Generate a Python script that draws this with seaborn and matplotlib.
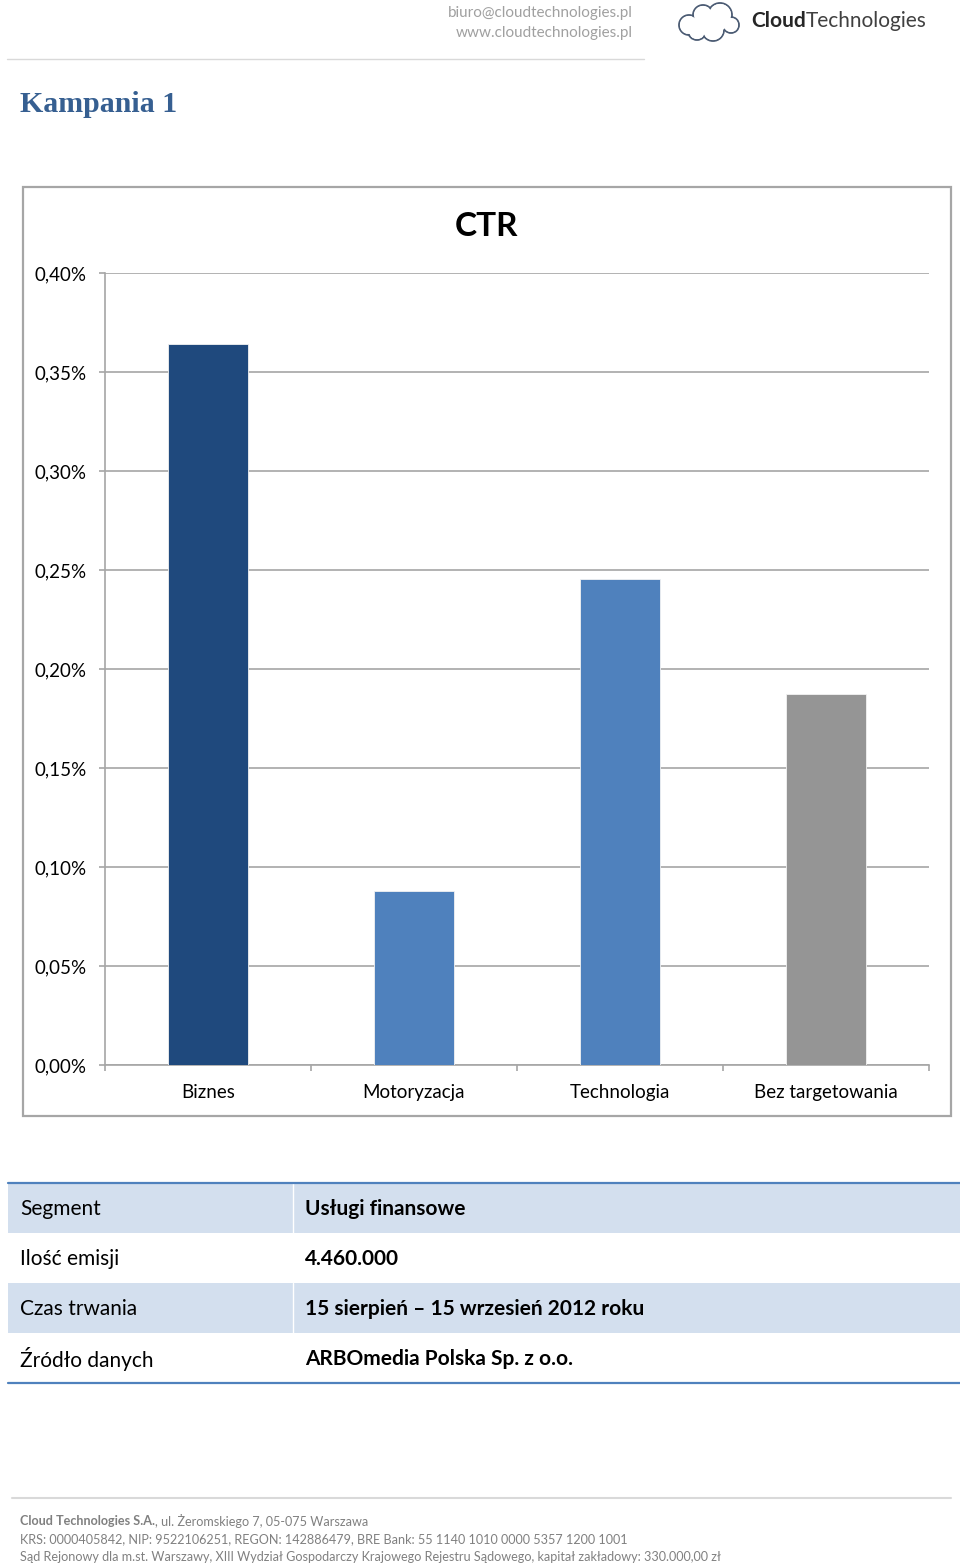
import matplotlib
matplotlib.use("Agg")
import matplotlib.pyplot as plt
from matplotlib.patches import Rectangle, Circle, Ellipse
from matplotlib.ticker import FuncFormatter, FixedLocator
import seaborn as sns
import pandas as pd

# ---- data ----
categories = ["Biznes", "Motoryzacja", "Technologia", "Bez targetowania"]
ctr_values = [0.364, 0.088, 0.2455, 0.1875]   # CTR in %
bar_colors = ["#1F497D", "#4F81BD", "#4F81BD", "#959595"]
y_ticks = [0.00, 0.05, 0.10, 0.15, 0.20, 0.25, 0.30, 0.35, 0.40]

table_labels = ["Segment", "Ilość emisji", "Czas trwania", "Źródło danych"]
table_values = ["Usługi finansowe", "4.460.000", "15 sierpień – 15 wrzesień 2012 roku",
                "ARBOmedia Polska Sp. z o.o."]

header_lines = ["biuro@cloudtechnologies.pl", "www.cloudtechnologies.pl"]
footer_bold = "Cloud Technologies S.A."
footer_lines = [
    ", ul. Żeromskiego 7, 05-075 Warszawa",
    "KRS: 0000405842, NIP: 9522106251, REGON: 142886479, BRE Bank: 55 1140 1010 0000 5357 1200 1001",
    "Sąd Rejonowy dla m.st. Warszawy, XIII Wydział Gospodarczy Krajowego Rejestru Sądowego, kapitał zakładowy: 330.000,00 zł",
]

# ---- style ----
sns.set_style("white")
FONT = ["Lato", "DejaVu Sans"]
plt.rcParams["font.family"] = FONT

W, H = 960, 1565
fig = plt.figure(figsize=(W / 100, H / 100), dpi=100)

# overlay axes in pixel coordinates (y down)
ov = fig.add_axes([0, 0, 1, 1], zorder=0)
ov.set_xlim(0, W)
ov.set_ylim(H, 0)
ov.axis("off")


def after(text_artist, s, **kw):
    """Place text s right after an existing text artist, same centre line."""
    fig.canvas.draw()
    bb = text_artist.get_window_extent()
    x_data = ov.transData.inverted().transform((bb.x1, 0))[0]
    y_data = text_artist.get_position()[1]
    return ov.text(x_data, y_data, s, ha="left", va="center", **kw)


# header
ov.text(633, 13, header_lines[0], ha="right", va="center", fontsize=11, color="#A0A0A0")
ov.text(633, 33, header_lines[1], ha="right", va="center", fontsize=11, color="#A0A0A0")
ov.plot([7, 644], [59, 59], color="#D9D9D9", lw=1)

# cloud logo
bumps = [(689, 25, 10), (703, 15, 10), (720, 15, 12), (731, 25, 8), (713, 30, 11), (697, 31, 9)]
for cx, cy, r in bumps:
    ov.add_patch(Circle((cx, cy), r, facecolor="none", edgecolor="#4B5B73", lw=1.3, zorder=2))
for cx, cy, r in bumps:
    ov.add_patch(Circle((cx, cy), r - 1.0, facecolor="white", edgecolor="none", zorder=3))
ov.add_patch(Ellipse((710, 24), 34, 18, facecolor="white", edgecolor="none", zorder=3))
t1 = ov.text(751, 21, "Cloud", ha="left", va="center", fontsize=15, fontweight="bold", color="#262626")
after(t1, "Technologies", fontsize=15, color="#404040")

# title
ov.text(20, 105, "Kampania 1", ha="left", va="center", fontsize=21.5, fontweight="bold",
        color="#365F91", family=["Liberation Serif"])

# chart frame
ov.add_patch(Rectangle((23, 187), 928, 929, facecolor="none", edgecolor="#A6A6A6", lw=1.6))
ov.text(487, 227, "CTR", ha="center", va="center", fontsize=24, fontweight="bold", color="black")

# chart axes
left, right, top, bottom = 105, 929, 273, 1065
ax = fig.add_axes([left / W, 1 - bottom / H, (right - left) / W, (bottom - top) / H], zorder=1)
ax.set_facecolor("none")
df = pd.DataFrame({"cat": categories, "ctr": ctr_values})
sns.barplot(data=df, x="cat", y="ctr", hue="cat", palette=bar_colors, width=0.39,
            legend=False, ax=ax, edgecolor="#F2F2F2", linewidth=0.6, saturation=1, zorder=3)
ax.set_xlim(-0.5, len(categories) - 0.5)
ax.set_ylim(y_ticks[0], y_ticks[-1])
ax.yaxis.set_major_locator(FixedLocator(y_ticks))
ax.yaxis.set_major_formatter(FuncFormatter(lambda v, p: f"{v:.2f}".replace(".", ",") + "%"))
ax.grid(axis="y", color="#A6A6A6", lw=1.2, zorder=0)
ax.set_axisbelow(True)
ax.set_xlabel("")
ax.set_ylabel("")
for s in ["top", "right"]:
    ax.spines[s].set_visible(False)
for s in ["left", "bottom"]:
    ax.spines[s].set_color("#A6A6A6")
    ax.spines[s].set_linewidth(1.2)
ax.tick_params(axis="y", length=4.5, width=1.2, color="#A6A6A6", pad=8.5,
               labelsize=13.5, labelcolor="black", direction="out", left=True)
ax.xaxis.set_minor_locator(FixedLocator([i - 0.5 for i in range(len(categories) + 1)]))
ax.tick_params(axis="x", which="major", length=0, pad=13.5, labelsize=13.5, labelcolor="black")
ax.tick_params(axis="x", which="minor", length=4.5, width=1.2, color="#A6A6A6", direction="out", bottom=True)

# table
row_h = 50
t_top = 1183
for i, (lab, val) in enumerate(zip(table_labels, table_values)):
    y0 = t_top + i * row_h
    if i % 2 == 0:
        ov.add_patch(Rectangle((8, y0), 952, row_h, facecolor="#D3DFEE", edgecolor="none"))
        ov.plot([293, 293], [y0, y0 + row_h], color="white", lw=1)
    ov.text(20, y0 + row_h / 2 + 1, lab, ha="left", va="center", fontsize=15, color="black")
    ov.text(305, y0 + row_h / 2 + 1, val, ha="left", va="center", fontsize=15,
            fontweight="bold", color="black")
ov.plot([8, 960], [t_top, t_top], color="#4F81BD", lw=1.6)
ov.plot([8, 960], [t_top + 4 * row_h, t_top + 4 * row_h], color="#4F81BD", lw=1.6)

# footer
ov.plot([12, 951], [1498, 1498], color="#D9D9D9", lw=1.5)
fb = ov.text(20, 1521, footer_bold, ha="left", va="center", fontsize=9.1,
             fontweight="bold", color="#808080")
after(fb, footer_lines[0], fontsize=9.1, color="#808080")
ov.text(20, 1539, footer_lines[1], ha="left", va="center", fontsize=9.1, color="#808080")
ov.text(20, 1557, footer_lines[2], ha="left", va="center", fontsize=9.1, color="#808080")

fig.savefig("out.png", dpi=100)
